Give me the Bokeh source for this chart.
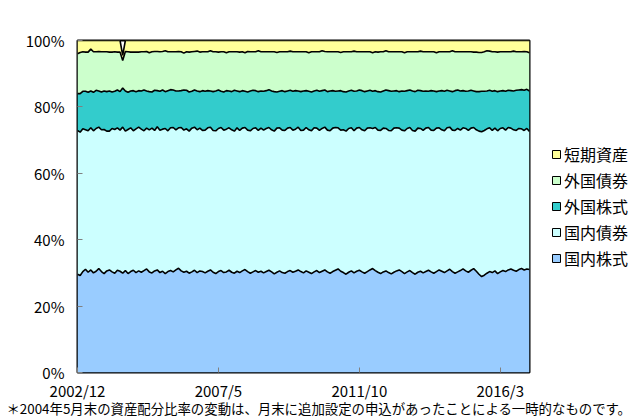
import numpy as np
import pandas as pd
from bokeh.plotting import figure
from bokeh.models import Range1d, FixedTicker, Legend, LegendItem, LinearAxis
from bokeh.embed import file_html
from bokeh.resources import INLINE

# ---- data (monthly, 2002/12 .. 2017/2), percent ----
months = [f"{d.year}/{d.month}" for d in pd.date_range("2002-12-01", periods=171, freq="MS")]
tick_labels = ["2002/12", "2007/5", "2011/10", "2016/3"]
y_ticks = [0, 20, 40, 60, 80, 100]
y_tick_labels = ["0%", "20%", "40%", "60%", "80%", "100%"]

series_names = ["国内株式", "国内債券", "外国株式", "外国債券", "短期資産"]

dom_stock = [
    29.6, 29.2, 30.4, 31.1, 30.2, 30.9, 30.0, 30.5, 31.3, 30.4, 29.8, 30.6,
    30.9, 30.3, 29.9, 30.8, 30.5, 29.9, 30.7, 29.8, 30.4, 30.8, 30.1, 30.6,
    30.2, 30.7, 31.2, 30.3, 30.0, 30.6, 30.9, 30.1, 30.5, 29.8, 30.4, 30.7,
    30.3, 30.9, 31.4, 30.6, 30.2, 30.5, 29.9, 30.3, 30.8, 30.1, 30.6, 30.4,
    30.0, 30.5, 30.9, 30.2, 29.8, 30.4, 30.7, 30.1, 30.3, 30.8, 30.2, 29.9,
    30.5, 30.1, 30.6, 31.0, 30.4, 29.9, 30.3, 30.7, 30.2, 30.5, 30.0, 30.4,
    30.8, 30.3, 29.7, 30.2, 30.6, 30.1, 29.9, 30.4, 30.7, 30.2, 30.5, 30.9,
    30.4, 30.0, 30.6, 30.2, 29.8, 30.3, 30.7, 30.1, 30.5, 30.9, 30.3, 29.9,
    30.4, 30.8, 31.2, 30.5, 30.1, 29.6, 30.2, 30.6, 30.0, 30.5, 30.8, 30.3,
    29.9, 30.4, 30.9, 31.3, 30.7, 30.2, 29.8, 30.3, 30.6, 30.1, 29.7, 30.2,
    30.6, 30.9, 30.4, 29.8, 30.3, 30.7, 30.1, 29.6, 30.2, 30.5, 30.0, 30.4,
    30.8, 30.3, 29.9, 30.4, 30.9, 30.5, 30.1, 30.6, 31.1, 30.4, 29.9, 30.3,
    30.7, 31.2, 30.6, 30.2, 30.8, 31.3, 30.5, 29.6, 28.9, 29.3, 29.9, 30.4,
    30.1, 30.6, 29.8, 30.3, 30.7, 30.4, 30.9, 31.2, 30.8, 30.5, 31.0, 31.3,
    30.9, 31.2, 31.0,
]
dom_bond = [
    43.3, 43.2, 43.0, 42.0, 42.6, 42.8, 42.8, 43.0, 42.6, 42.7, 43.4, 42.1,
    41.8, 43.2, 43.3, 42.9, 42.5, 44.0, 42.0, 43.4, 43.3, 42.0, 43.3, 43.3,
    43.1, 42.1, 42.4, 42.8, 43.6, 42.3, 43.1, 42.9, 42.8, 43.7, 42.4, 43.0,
    43.5, 42.2, 42.3, 43.2, 42.8, 42.9, 42.8, 43.3, 43.1, 43.0, 43.0, 42.5,
    43.0, 43.2, 43.0, 42.7, 43.0, 43.1, 43.1, 42.9, 43.0, 42.9, 42.9, 42.8,
    43.2, 42.8, 43.0, 42.8, 42.6, 42.9, 43.2, 43.0, 42.7, 43.1, 43.0, 43.1,
    43.0, 42.8, 43.0, 43.4, 43.1, 42.9, 43.0, 43.2, 43.1, 42.8, 42.8, 43.0,
    42.5, 43.0, 43.2, 42.9, 43.0, 43.4, 42.9, 42.8, 43.0, 43.0, 42.7, 42.9,
    43.2, 43.0, 42.5, 42.5, 43.0, 43.1, 43.3, 43.1, 42.8, 43.1, 43.0, 42.8,
    42.9, 43.2, 42.8, 42.2, 43.1, 42.8, 43.1, 43.3, 42.9, 42.8, 43.1, 43.4,
    43.1, 42.7, 42.6, 43.0, 43.2, 43.1, 42.8, 43.1, 43.4, 43.0, 42.9, 43.2,
    43.0, 42.7, 43.0, 43.2, 42.8, 42.6, 42.7, 43.1, 42.8, 42.6, 43.0, 43.2,
    42.3, 42.5, 42.9, 42.7, 42.8, 42.5, 42.6, 43.1, 43.6, 43.6, 43.5, 43.3,
    42.8, 43.0, 43.0, 43.2, 43.0, 42.6, 42.9, 42.4, 42.3, 42.4, 42.5, 42.1,
    42.0, 42.3, 41.6,
]
for_stock = [
    11.1, 11.6, 11.3, 11.6, 11.6, 11.1, 11.6, 11.5, 10.9, 11.4, 11.6, 11.9,
    12.1, 11.0, 11.5, 11.4, 11.6, 11.8, 12.1, 11.2, 11.1, 12.1, 11.2, 11.0,
    11.5, 12.3, 11.2, 11.5, 10.9, 12.1, 10.9, 11.7, 11.8, 11.1, 12.1, 11.5,
    11.3, 11.7, 11.1, 11.1, 12.1, 11.6, 11.8, 11.1, 11.2, 11.7, 11.0, 12.0,
    11.7, 11.2, 10.9, 11.7, 12.0, 11.6, 10.9, 11.5, 11.6, 11.1, 11.5, 12.3,
    11.1, 11.7, 11.3, 10.9, 11.5, 12.0, 11.5, 11.2, 11.7, 11.2, 11.7, 11.4,
    11.4, 11.7, 11.9, 10.9, 11.0, 11.9, 11.7, 11.2, 11.2, 11.7, 11.6, 10.9,
    11.7, 11.8, 11.1, 11.6, 11.7, 11.1, 11.4, 11.8, 11.4, 11.2, 11.6, 12.0,
    11.3, 10.9, 11.1, 11.9, 11.5, 11.8, 11.3, 11.3, 11.9, 11.2, 11.3, 11.8,
    11.8, 11.2, 11.3, 11.2, 11.1, 11.6, 11.6, 11.2, 11.6, 12.0, 11.9, 11.2,
    11.2, 11.0, 11.8, 11.9, 11.4, 11.3, 11.9, 11.9, 11.4, 11.4, 11.8, 11.2,
    10.9, 11.9, 11.9, 11.0, 11.1, 11.8, 11.9, 11.3, 10.9, 11.6, 12.0, 11.6,
    11.8, 11.2, 11.2, 11.9, 11.4, 11.0, 11.5, 11.9, 12.2, 11.8, 11.4, 11.3,
    11.8, 11.3, 11.8, 11.3, 11.2, 11.7, 11.2, 11.3, 11.7, 12.1, 11.6, 11.8,
    12.1, 11.8, 12.2,
]
for_bond = [
    12.0, 12.4, 11.9, 11.8, 12.1, 12.6, 12.2, 11.6, 11.9, 12.1, 11.8, 12.0,
    11.7, 12.0, 11.9, 11.4, 11.9, 8.3, 11.9, 12.2, 11.7, 11.6, 11.9, 11.6,
    11.8, 11.5, 11.9, 11.7, 12.1, 11.7, 11.8, 11.9, 11.6, 12.3, 11.7, 11.4,
    11.5, 11.8, 11.9, 11.7, 11.1, 11.6, 12.0, 11.9, 11.6, 12.0, 11.9, 11.7,
    11.9, 11.7, 12.1, 12.0, 11.8, 11.4, 11.9, 12.1, 11.4, 11.8, 12.0, 11.6,
    11.8, 11.9, 11.7, 11.6, 12.2, 11.8, 11.6, 11.7, 12.3, 11.8, 11.9, 11.7,
    11.4, 11.8, 12.0, 11.9, 11.9, 11.7, 12.0, 11.8, 11.8, 11.9, 11.7, 11.8,
    12.0, 11.8, 11.7, 11.6, 12.1, 11.8, 11.6, 11.9, 12.0, 11.6, 12.0, 11.8,
    11.7, 11.9, 11.8, 11.5, 12.0, 12.1, 11.8, 11.6, 12.1, 11.8, 11.5, 11.7,
    12.0, 11.8, 11.6, 11.6, 11.7, 11.9, 12.1, 11.8, 11.8, 11.7, 11.9, 11.8,
    11.7, 12.0, 11.8, 11.6, 11.7, 11.5, 11.8, 12.0, 11.6, 11.9, 11.9, 11.8,
    11.9, 11.7, 11.8, 11.7, 11.8, 11.7, 11.9, 11.6, 11.8, 12.3, 11.7, 11.5,
    11.8, 11.7, 11.9, 11.8, 11.6, 11.7, 11.9, 11.8, 11.7, 11.9, 12.1, 11.8,
    11.9, 11.7, 11.9, 11.8, 11.7, 11.9, 11.6, 11.7, 12.0, 11.6, 11.5, 11.4,
    11.7, 11.3, 11.5,
]
short_term = [
    4.0, 3.6, 3.4, 3.5, 3.5, 2.6, 3.4, 3.4, 3.3, 3.4, 3.4, 3.4,
    3.5, 3.5, 3.4, 3.5, 3.5, 1.5, 3.3, 3.4, 3.5, 3.5, 3.5, 3.5,
    3.4, 3.4, 3.3, 3.7, 3.4, 3.3, 3.3, 3.4, 3.3, 3.1, 3.4, 3.4,
    3.4, 3.4, 3.3, 3.4, 3.8, 3.4, 3.5, 3.4, 3.3, 3.2, 3.5, 3.4,
    3.4, 3.4, 3.1, 3.4, 3.4, 3.5, 3.4, 3.4, 3.7, 3.4, 3.4, 3.4,
    3.4, 3.5, 3.4, 3.7, 3.3, 3.4, 3.4, 3.4, 3.1, 3.4, 3.4, 3.4,
    3.4, 3.4, 3.4, 3.6, 3.4, 3.4, 3.4, 3.4, 3.2, 3.4, 3.4, 3.4,
    3.4, 3.4, 3.4, 3.7, 3.4, 3.4, 3.4, 3.4, 3.1, 3.3, 3.4, 3.4,
    3.4, 3.4, 3.4, 3.6, 3.4, 3.4, 3.4, 3.4, 3.2, 3.4, 3.4, 3.4,
    3.4, 3.4, 3.4, 3.7, 3.4, 3.5, 3.4, 3.4, 3.1, 3.4, 3.4, 3.4,
    3.4, 3.4, 3.4, 3.7, 3.4, 3.4, 3.4, 3.4, 3.4, 3.2, 3.4, 3.4,
    3.4, 3.4, 3.4, 3.7, 3.4, 3.4, 3.4, 3.4, 3.4, 3.1, 3.4, 3.4,
    3.4, 3.4, 3.4, 3.4, 3.4, 3.5, 3.5, 3.6, 3.6, 3.4, 3.1, 3.2,
    3.4, 3.4, 3.5, 3.4, 3.4, 3.4, 3.4, 3.4, 3.2, 3.4, 3.4, 3.4,
    3.3, 3.4, 3.7,
]

colors = ["#99CCFF", "#CCFFFF", "#33CCCC", "#CCFFCC", "#FFFF99"]
note = "＊2004年5月末の資産配分比率の変動は、月末に追加設定の申込があったことによる一時的なものです。"

# ---- build ----
FONT = "Noto Sans CJK JP"
x = np.arange(len(months))
stack = np.array([dom_stock, dom_bond, for_stock, for_bond, short_term])
tops = np.cumsum(stack, axis=0)
bottoms = np.vstack([np.zeros(len(months)), tops[:-1]])

p = figure(width=638, height=417, frame_width=452, frame_height=332,
           x_range=Range1d(0, len(months) - 1), y_range=Range1d(0, 100),
           output_backend="svg", toolbar_location=None,
           min_border_left=77, min_border_right=109, min_border_top=40, min_border_bottom=45)
p.background_fill_color = "white"
p.border_fill_color = "white"
p.outline_line_color = "black"
p.outline_line_width = 2
p.xgrid.visible = False
p.ygrid.visible = False

for i in range(5):
    p.varea(x=x, y1=bottoms[i], y2=tops[i], fill_color=colors[i])
for i in range(5):
    p.line(x=x, y=tops[i], line_color="black", line_width=1.6)

# legend (one-row NaN area glyphs so only the legend swatch is drawn)
items = []
for i in [4, 3, 2, 1, 0]:
    r = p.quad(left=[np.nan], right=[np.nan], top=[np.nan], bottom=[np.nan],
               fill_color=colors[i], line_color="black", line_width=1)
    items.append(LegendItem(label=series_names[i], renderers=[r]))
legend = Legend(items=items, location="center_left", glyph_width=10, glyph_height=10,
                label_height=16, spacing=2, padding=0, margin=22, label_standoff=3,
                border_line_color=None, background_fill_alpha=0,
                label_text_font=FONT, label_text_font_size="16px", label_text_color="black")
p.add_layout(legend, "right")

tick_pos = [months.index(t) for t in tick_labels]
p.xaxis.ticker = FixedTicker(ticks=tick_pos)
p.xaxis.major_label_overrides = {pos: lab for pos, lab in zip(tick_pos, tick_labels)}
p.yaxis.ticker = FixedTicker(ticks=y_ticks)
p.yaxis.major_label_overrides = {v: lab for v, lab in zip(y_ticks, y_tick_labels)}
for ax in (p.xaxis, p.yaxis):
    ax.axis_line_color = None
    ax.major_tick_in = 5
    ax.major_tick_out = 0
    ax.major_tick_line_color = "#808080"
    ax.minor_tick_line_color = None
    ax.major_label_text_font = FONT
    ax.major_label_text_font_size = "15px"
    ax.major_label_text_color = "black"
p.yaxis.major_label_standoff = 13
p.xaxis.major_label_standoff = 7

# footnote: single tick label of a second, tick-less bottom axis
note_pos = 90.8
note_axis = LinearAxis(ticker=FixedTicker(ticks=[note_pos]),
                       major_label_overrides={note_pos: note},
                       axis_line_color=None, major_tick_line_color=None,
                       minor_tick_line_color=None, major_label_standoff=-12,
                       major_label_text_font=FONT, major_label_text_font_size="13.4px",
                       major_label_text_color="black")
p.add_layout(note_axis, "below")

open("out.html", "w").write(file_html(p, INLINE))
